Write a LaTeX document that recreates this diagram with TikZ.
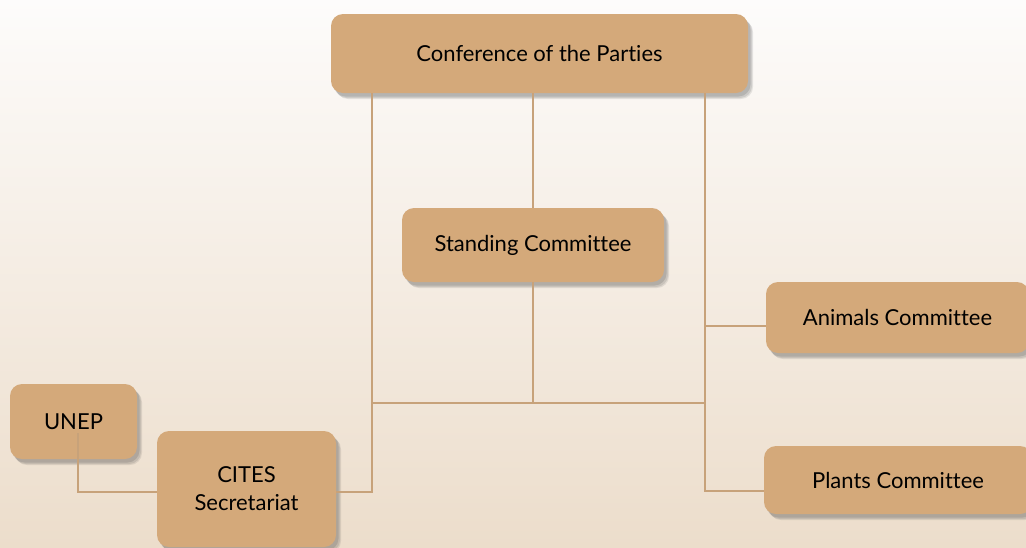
\documentclass[tikz,border=0pt]{standalone}
\usepackage{fontspec}
\setmainfont{Lato}[Ligatures=NoCommon]
\usetikzlibrary{backgrounds,shadows}
\definecolor{boxfill}{HTML}{D4A97A}
\definecolor{linkcol}{HTML}{C7A27A}
\definecolor{bgtop}{HTML}{FDFCFB}
\definecolor{bgbottom}{HTML}{ECDDCB}
\tikzset{link/.style={draw=linkcol,line width=2.4pt},
  soft shadow/.style={
    drop shadow={shadow xshift=5pt,shadow yshift=-6pt,opacity=0.12,fill=black!70},
    drop shadow={shadow xshift=4pt,shadow yshift=-5pt,opacity=0.15,fill=black!70},
    drop shadow={shadow xshift=2.5pt,shadow yshift=-3.5pt,opacity=0.18,fill=black!70}}}

\begin{document}
\begin{tikzpicture}[x=1pt,y=-1pt]
  \useasboundingbox (0,0) rectangle (1026,547);
  \begin{scope}[every node/.style={fill=boxfill,rounded corners=12pt,soft shadow,
      font=\fontsize{22}{28}\selectfont,align=center,inner sep=0pt}]
    \node (cop) [minimum width=417pt,minimum height=79pt] at (539.5,53.5) {Conference of the Parties};
    \node (sc) [minimum width=262pt,minimum height=74pt] at (533,245) {Standing Committee};
    \node (ac) [minimum width=263pt,minimum height=71pt] at (897.5,317.5) {Animals Committee};
    \node (pc) [minimum width=268pt,minimum height=68pt] at (898,480) {Plants Committee};
    \node (unep) [minimum width=127pt,minimum height=75pt] at (73.5,421.5) {UNEP};
    \node (cites) [minimum width=179pt,minimum height=116pt] at (246.5,489) {CITES\\Secretariat};
  \end{scope}
  % junction points
  \coordinate (jl) at (372,403);
  \coordinate (jc) at (533,403);
  \coordinate (jr) at (705,403);
  \coordinate (ja) at (705,326);
  \coordinate (jp) at (705,491);
  \coordinate (jq) at (372,492);
  \coordinate (ju) at (78,492);
  \coordinate (us) at (78,433);
  \begin{scope}[every path/.style={link}]
    \draw (cop.south -| jc) -- (sc.north);
    \draw (sc.south) -- (jc);
    \draw (jl) -- (jr);
    \draw (cop.south -| jl) -- (jq) -- (jq -| cites.east);
    \draw (cop.south -| jr) -- (jp) -- (jp -| pc.west);
    \draw (ja) -- (ja -| ac.west);
    \draw (us) -- (ju) -- (ju -| cites.west);
  \end{scope}
  \begin{scope}[on background layer]
    \fill[top color=bgtop,bottom color=bgbottom] (0,0) rectangle (1026,547);
  \end{scope}
\end{tikzpicture}
\end{document}
